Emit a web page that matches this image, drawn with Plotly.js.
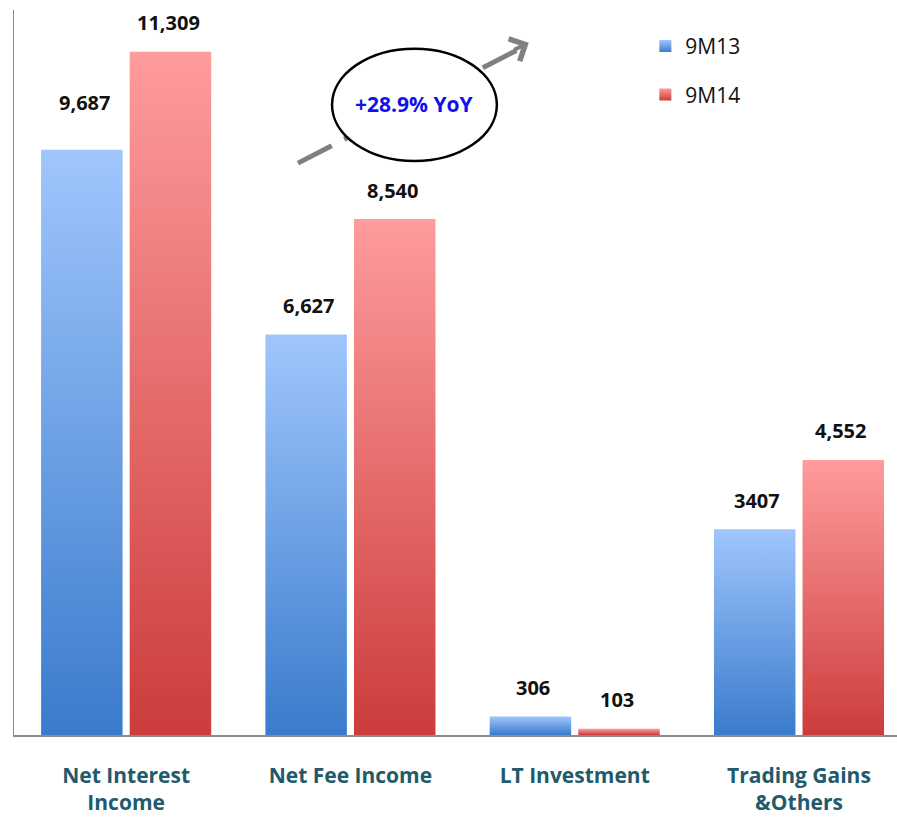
<!DOCTYPE html>
<html>
<head>
<meta charset="utf-8">
<script src="https://cdn.plot.ly/plotly-3.0.1.min.js"></script>
<style>
  html, body { margin: 0; padding: 0; background: #fff; }
  #chart { width: 897px; height: 820px; }
</style>
</head>
<body>
<div id="chart"></div>
<script>
// Revenue breakdown, 9M13 vs 9M14
const categories = ['Net Interest<br>Income', 'Net Fee Income', 'LT Investment', 'Trading Gains<br>&Others'];
const seriesNames = ['9M13', '9M14'];
const values9M13 = [9687, 6627, 306, 3407];
const values9M14 = [11309, 8540, 103, 4552];
const labels9M13 = ['9,687', '6,627', '306', '3407'];
const labels9M14 = ['11,309', '8,540', '103', '4,552'];
const growthText = '+28.9% YoY';

const FONT = '"Open Sans", "Noto Sans", sans-serif';

const traces = [
  {
    type: 'bar', name: seriesNames[0], x: categories, y: values9M13,
    marker: { color: '#6f9fe6' }, legendgroup: 'a', hoverinfo: 'none'
  },
  {
    type: 'bar', name: seriesNames[1], x: categories, y: values9M14,
    marker: { color: '#e86e6e' }, legendgroup: 'b', hoverinfo: 'none'
  }
];

// value labels above each bar
const annotations = [];
const labelSets = [labels9M13, labels9M14];
const valueSets = [values9M13, values9M14];
labelSets.forEach((labels, s) => {
  labels.forEach((txt, i) => {
    let shift = 29;
    if (s === 0 && i === 0) shift = 47;
    annotations.push({
      x: categories[i], y: valueSets[s][i], xref: 'x', yref: 'y',
      xshift: s === 0 ? -42 : 42, yshift: shift,
      text: '<b>' + txt + '</b>', showarrow: false,
      yanchor: 'middle', xanchor: 'center',
      font: { family: FONT, size: 20, color: '#111' }
    });
  });
});

// growth callout text
annotations.push({
  x: 1.285, y: 10440, xref: 'x', yref: 'y',
  text: '<b>' + growthText + '</b>', showarrow: false,
  font: { family: FONT, size: 21, color: '#1010ee' }
});
// arrow head of the dashed trend arrow
annotations.push({
  x: 1.795, y: 11460, xref: 'x', yref: 'y',
  ax: -16, ay: 8, text: '', showarrow: true,
  arrowhead: 4, arrowsize: 1.2, arrowwidth: 4, arrowcolor: '#808080'
});

const shapes = [
  {
    type: 'line', xref: 'x', yref: 'y',
    x0: 0.766, y0: 9466, x1: 1.74, y1: 11330,
    line: { color: '#808080', width: 5, dash: '38px,14px' }
  },
  {
    type: 'circle', xref: 'x', yref: 'y',
    x0: 0.918, x1: 1.653, y0: 9500, y1: 11360,
    fillcolor: '#ffffff', line: { color: '#000', width: 2.5 }
  }
];

const layout = {
  width: 897, height: 820,
  margin: { l: 14, r: 0, t: 10, b: 85 },
  paper_bgcolor: '#fff', plot_bgcolor: '#fff',
  barmode: 'group', bargap: 0.21, bargroupgap: 0.08,
  showlegend: true,
  legend: {
    x: 0.715, y: 0.978, xanchor: 'left', yanchor: 'top',
    font: { family: FONT, size: 21, color: '#111' },
    tracegroupgap: 18, bgcolor: 'rgba(0,0,0,0)', itemwidth: 30
  },
  xaxis: {
    range: [-0.5, 3.437], showgrid: false, zeroline: false,
    showline: true, linecolor: '#8c8c8c', linewidth: 1.5,
    ticks: '', ticklabelstandoff: 21,
    tickfont: { family: FONT, size: 21, color: '#215a6b', weight: 'bold' }
  },
  yaxis: {
    range: [0, 12000], showgrid: false, zeroline: false,
    showline: true, linecolor: '#8c8c8c', linewidth: 1.5,
    showticklabels: false, ticks: ''
  },
  annotations: annotations,
  shapes: shapes,
  font: { family: FONT }
};

function applyGradients(gd) {
  const svg = gd.querySelector('svg.main-svg');
  if (!svg) return;
  const ns = 'http://www.w3.org/2000/svg';
  let defs = svg.querySelector('defs');
  if (!defs) { defs = document.createElementNS(ns, 'defs'); svg.insertBefore(defs, svg.firstChild); }
  const grads = [
    { id: 'gradBlue', top: '#a0c6fd', bottom: '#3a7bcc' },
    { id: 'gradRed', top: '#ff9c9c', bottom: '#cc3c3c' }
  ];
  grads.forEach(g => {
    if (defs.querySelector('#' + g.id)) return;
    const lg = document.createElementNS(ns, 'linearGradient');
    lg.setAttribute('id', g.id);
    lg.setAttribute('x1', '0'); lg.setAttribute('y1', '0');
    lg.setAttribute('x2', '0'); lg.setAttribute('y2', '1');
    [[0, g.top], [1, g.bottom]].forEach(([o, c]) => {
      const st = document.createElementNS(ns, 'stop');
      st.setAttribute('offset', o);
      st.setAttribute('stop-color', c);
      lg.appendChild(st);
    });
    defs.appendChild(lg);
  });
  const traceGroups = gd.querySelectorAll('.barlayer .trace.bars');
  traceGroups.forEach((tg, idx) => {
    tg.querySelectorAll('.point path').forEach(p => {
      p.style.fill = 'url(#' + grads[idx].id + ')';
    });
  });
  const legendPts = gd.querySelectorAll('.legend .traces');
  legendPts.forEach((lt, idx) => {
    lt.querySelectorAll('.legendpoints path').forEach(p => {
      p.style.fill = 'url(#' + grads[idx].id + ')';
      p.style.stroke = 'none';
    });
  });
}

Plotly.newPlot('chart', traces, layout, { displayModeBar: false, staticPlot: true })
  .then(gd => applyGradients(gd));
</script>
</body>
</html>
